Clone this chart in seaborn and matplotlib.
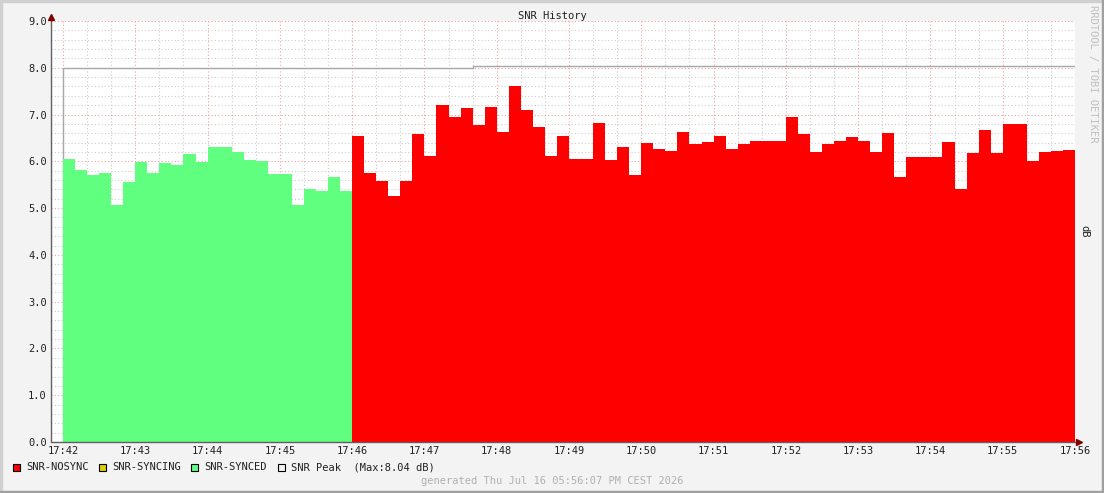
import numpy as np
import pandas as pd
import matplotlib
matplotlib.use("Agg")
import matplotlib.pyplot as plt
import matplotlib.patches as mpatches
import seaborn as sns

# SNR samples every 10 s starting 17:42:00
step = 10
synced = [6.06, 5.81, 5.71, 5.76, 5.06, 5.56, 5.99, 5.76, 5.96, 5.93, 6.16, 5.99,
          6.31, 6.31, 6.20, 6.03, 6.01, 5.73, 5.73, 5.06, 5.41, 5.36, 5.66, 5.36]
nosync = [6.55, 5.76, 5.59, 5.25, 5.59, 6.58, 6.12, 7.20, 6.95, 7.15, 6.78, 7.17,
          6.62, 7.62, 7.09, 6.74, 6.12, 6.55, 6.06, 6.06, 6.83, 6.02, 6.31, 5.71,
          6.40, 6.27, 6.23, 6.63, 6.38, 6.42, 6.55, 6.27, 6.37, 6.44, 6.44, 6.44,
          6.95, 6.59, 6.19, 6.37, 6.44, 6.52, 6.44, 6.19, 6.61, 5.67, 6.10, 6.10,
          6.10, 6.42, 5.41, 6.17, 6.67, 6.17, 6.80, 6.79, 6.01, 6.19, 6.22, 6.25]
peak = [8.00] * 34 + [8.04] * 50
x_labels = ["17:42", "17:43", "17:44", "17:45", "17:46", "17:47", "17:48", "17:49",
            "17:50", "17:51", "17:52", "17:53", "17:54", "17:55", "17:56"]
y_ticks = [0, 1, 2, 3, 4, 5, 6, 7, 8, 9]

sns.set_style("white")
plt.rcParams['font.family'] = ['DejaVu Sans Mono']

fig = plt.figure(figsize=(11.04, 4.93), dpi=100, facecolor="#f3f3f3")
W, H = 1104, 493
ax = fig.add_axes([51 / W, 51 / H, (1075 - 51) / W, (442 - 21) / H])
ax.set_facecolor("white")

t_syn = np.arange(len(synced)) * step
t_nos = (np.arange(len(nosync)) + len(synced)) * step
df = pd.DataFrame({"t": np.concatenate([t_syn, t_nos]),
                   "v": synced + nosync,
                   "state": ["synced"] * len(synced) + ["nosync"] * len(nosync)})

for state, col in [("synced", "#60ff80"), ("nosync", "#ff0000")]:
    d = df[df.state == state]
    x = np.append(d.t.values, d.t.values[-1] + step)
    y = np.append(d.v.values, d.v.values[-1])
    ax.fill_between(x, 0, y, step="post", color=col, linewidth=0, zorder=3)

# peak line (behind the areas)
pk = pd.DataFrame({"t": np.concatenate([[0], np.arange(len(peak) + 1) * step]),
                   "v": [0] + peak + [peak[-1]]})
sns.lineplot(data=pk, x="t", y="v", drawstyle="steps-post", color="#a8a8a8",
             linewidth=1, ax=ax, zorder=2.5, sort=False, estimator=None)

xmin = -12 / 72.3 * 60
ax.set_xlim(xmin, 840)
ax.set_ylim(0, 9)

# grids
for yv in np.arange(0, 9.01, 0.2):
    if abs(yv - round(yv)) > 1e-6:
        ax.axhline(yv, color="#cccccc", linestyle=(0, (1, 2)), linewidth=0.8, zorder=1)
for xv in np.arange(0, 841, 20):
    if xv % 60:
        ax.axvline(xv, color="#cccccc", linestyle=(0, (1, 2)), linewidth=0.8, zorder=1)
for yv in y_ticks:
    ax.axhline(yv, color="#f0a0a0", linestyle=(0, (1, 2)), linewidth=0.8, zorder=2)
for i in range(len(x_labels)):
    ax.axvline(i * 60, color="#f0a0a0", linestyle=(0, (1, 2)), linewidth=0.8, zorder=2)

for s in ax.spines.values():
    s.set_visible(False)
ax.set_xticks([i * 60 for i in range(len(x_labels))])
ax.set_xticklabels(x_labels, fontsize=7.5)
ax.set_yticks(y_ticks)
ax.set_yticklabels([f"{v:.1f}" for v in y_ticks], fontsize=7.5)
ax.tick_params(axis="both", length=0, pad=3, colors="#202020")
ax.set_xlabel("")
ax.set_ylabel("")

# axes lines with arrows
ax.plot([0, 0], [0, 1.008], transform=ax.transAxes, color="#606060", lw=1, clip_on=False, zorder=6)
ax.plot([0, 1.004], [0, 0], transform=ax.transAxes, color="#606060", lw=1, clip_on=False, zorder=6)
ax.plot([0], [1.01], marker="^", markersize=4, color="#800000", transform=ax.transAxes, clip_on=False, zorder=7)
ax.plot([1.004], [0], marker=">", markersize=4, color="#800000", transform=ax.transAxes, clip_on=False, zorder=7)

fig.text(552 / W, 1 - 16 / H, "SNR History", ha="center", va="center", fontsize=7.5, color="#202020")
fig.text(1093 / W, 1 - 5 / H, "RRDTOOL / TOBI OETIKER", rotation=270, ha="center", va="top",
         fontsize=7.5, color="#c0c0c0")
fig.text(1084 / W, 1 - 231 / H, "dB", rotation=270, ha="center", va="center", fontsize=7.5, color="#202020")

legend = [(13, "#ff0000", "SNR-NOSYNC"), (99, "#e0d000", "SNR-SYNCING"),
          (191, "#60ff80", "SNR-SYNCED"), (278, "#f3f3f3", "SNR Peak  (Max:8.04 dB)")]
for lx, col, lab in legend:
    fig.patches.append(mpatches.Rectangle((lx / W, 1 - 471 / H), 7 / W, 7 / H, transform=fig.transFigure,
                                          facecolor=col, edgecolor="black", linewidth=0.8))
    fig.text((lx + 13) / W, 1 - 467 / H, lab, ha="left", va="center", fontsize=7.5, color="#202020")
fig.text(552 / W, 1 - 481 / H, "generated Thu Jul 16 05:56:07 PM CEST 2026", ha="center", va="center",
         fontsize=7.5, color="#b0b0b0")

# 3D-like frame
fig.patches.append(mpatches.Rectangle((0, 1 - 2 / H), 1, 2 / H, transform=fig.transFigure, color="#d0d0d0"))
fig.patches.append(mpatches.Rectangle((0, 0), 2 / W, 1, transform=fig.transFigure, color="#d0d0d0"))
fig.patches.append(mpatches.Rectangle((0, 0), 1, 2 / H, transform=fig.transFigure, color="#a0a0a0"))
fig.patches.append(mpatches.Rectangle((1 - 2 / W, 0), 2 / W, 1, transform=fig.transFigure, color="#a0a0a0"))

fig.savefig("out.png", dpi=100, facecolor=fig.get_facecolor())
